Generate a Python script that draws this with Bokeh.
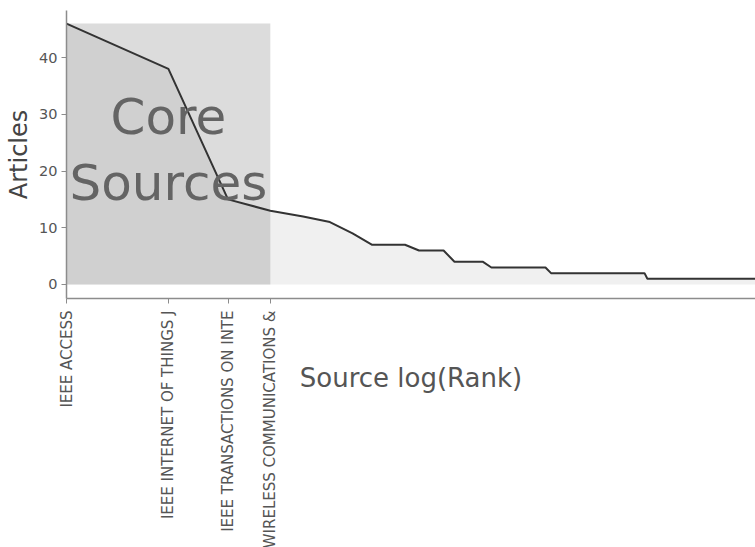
import math

from bokeh.embed import file_html
from bokeh.models import ColumnDataSource, CustomJSTickFormatter, FixedTicker, Label, Range1d
from bokeh.plotting import figure
from bokeh.resources import INLINE

# Bradford's law: sources ranked by number of articles
source_names = [
    "IEEE ACCESS",
    "IEEE INTERNET OF THINGS J",
    "IEEE TRANSACTIONS ON INTE",
    "WIRELESS COMMUNICATIONS &",
]
core_count = 4

articles = [
    46, 38, 15, 13, 12, 11, 9, 7, 7, 7,
    6, 6, 6, 4, 4, 4, 4, 3, 3, 3,
    3, 3, 3, 3, 3, 3, 2, 2, 2, 2,
    2, 2, 2, 2, 2, 2, 2, 2, 2, 2,
    2, 2, 2, 2, 2, 2, 2, 2, 2, 2,
    2, 1, 1, 1, 1, 1, 1, 1, 1, 1,
    1, 1, 1, 1, 1, 1, 1, 1, 1, 1,
    1, 1, 1, 1, 1, 1, 1, 1, 1, 1,
    1, 1, 1, 1, 1, 1, 1, 1, 1, 1,
    1, 1, 1, 1, 1, 1, 1, 1, 1, 1,
    1, 1, 1, 1, 1, 1, 1, 1, 1, 1,
]
ranks = list(range(1, len(articles) + 1))
log_rank = [math.log(r) for r in ranks]

src = ColumnDataSource(dict(x=log_rank, y=articles, zero=[0] * len(articles)))

FONT = "DejaVu Sans"

p = figure(
    width=755,
    height=547,
    output_backend="svg",
    toolbar_location=None,
    x_range=Range1d(0, math.log(108.5)),
    y_range=Range1d(-2.47, 48.3),
    min_border_left=66,
    min_border_right=0,
    min_border_top=10,
    min_border_bottom=249,
)
p.outline_line_color = None
p.xgrid.visible = False
p.ygrid.visible = False
p.background_fill_color = "white"
p.border_fill_color = "white"

# area under the curve
p.varea(x="x", y1="zero", y2="y", source=src, fill_color="#f0f0f0")

# core sources zone
p.quad(left=[0], right=[math.log(core_count)], bottom=[0], top=[max(articles)],
       fill_color="#444444", fill_alpha=0.19, line_color=None)

p.line(x="x", y="y", source=src, line_color="#333333", line_width=2)

core_mid_x = math.log(core_count) / 2
core_mid_y = max(articles) / 2
for txt, dy in (("Core", 6.5), ("Sources", -5.1)):
    p.add_layout(Label(x=core_mid_x, y=core_mid_y + dy, text=txt,
                       text_align="center", text_baseline="middle",
                       text_font=FONT, text_font_size="50px", text_color="#646464"))

# x axis: tick labels show the names of the core sources
p.xaxis.ticker = FixedTicker(ticks=[math.log(r) for r in range(1, core_count + 1)])
p.xaxis.formatter = CustomJSTickFormatter(
    args=dict(names=source_names),
    code="const i = Math.round(Math.exp(tick)) - 1; return names[i] || '';",
)
p.xaxis.major_label_orientation = math.pi / 2
p.xaxis.major_label_text_font = FONT
p.xaxis.major_label_text_font_size = "15px"
p.xaxis.major_label_text_color = "#555555"
p.xaxis.major_label_standoff = 7
p.xaxis.minor_tick_line_color = None
p.xaxis.major_tick_in = 0
p.xaxis.major_tick_out = 5
p.xaxis.axis_label = "Source log(Rank)"
p.xaxis.axis_label_text_font = FONT
p.xaxis.axis_label_text_font_size = "26px"
p.xaxis.axis_label_text_font_style = "normal"
p.xaxis.axis_label_text_color = "#555555"
p.xaxis.axis_label_standoff = -188

p.yaxis.ticker = FixedTicker(ticks=[0, 10, 20, 30, 40])
p.yaxis.major_label_text_font = FONT
p.yaxis.major_label_text_font_size = "14.5px"
p.yaxis.major_label_text_color = "#555555"
p.yaxis.major_label_standoff = 4
p.yaxis.minor_tick_line_color = None
p.yaxis.major_tick_in = 0
p.yaxis.major_tick_out = 5
p.yaxis.axis_label = "Articles"
p.yaxis.axis_label_text_font = FONT
p.yaxis.axis_label_text_font_size = "24px"
p.yaxis.axis_label_text_font_style = "normal"
p.yaxis.axis_label_text_color = "#444444"
p.yaxis.axis_label_standoff = 3

for ax in (p.xaxis, p.yaxis):
    ax.axis_line_color = "#8c8c8c"
    ax.axis_line_width = 1.5
    ax.major_tick_line_color = "#8c8c8c"

open("out.html", "w").write(file_html(p, INLINE))
